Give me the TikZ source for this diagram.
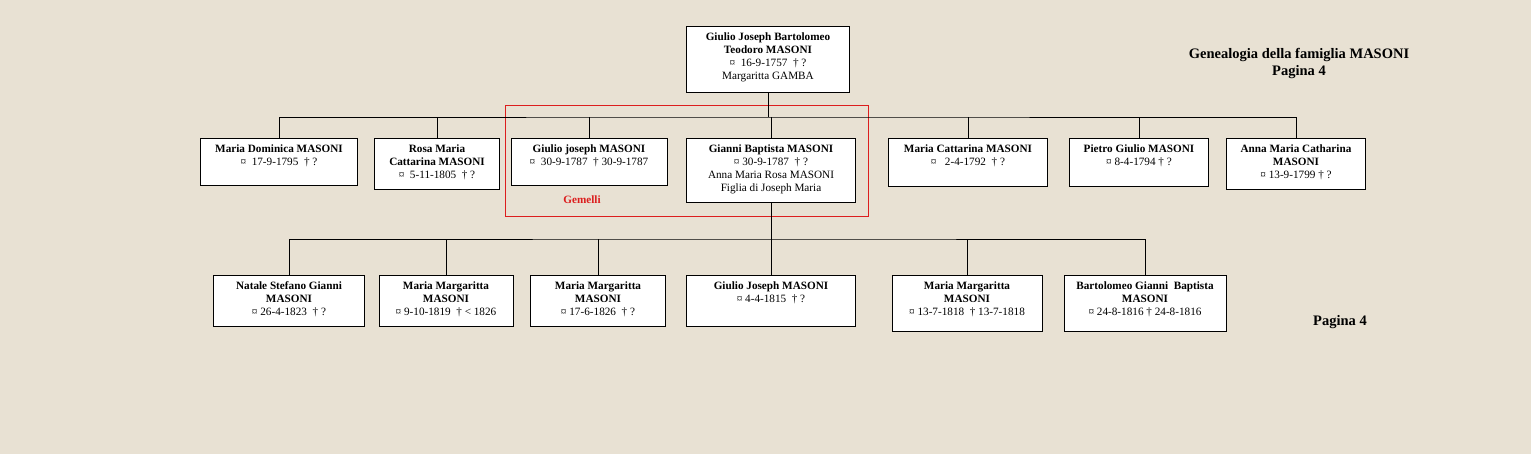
\documentclass[tikz,border=0pt]{standalone}
\usepackage{fontspec}
\setmainfont{Liberation Serif}
\definecolor{paper}{RGB}{232,225,211}
\definecolor{twinred}{RGB}{220,30,30}
% box with its text hanging from the top edge
\newcommand{\person}[6]{%
  \node[personbox,minimum width=#4,minimum height=#5] (#1) at (#2,#3) {};
  \node[persontext] (#1-t) at (#1.north) {#6};}

\begin{document}
\begin{tikzpicture}[x=1pt,y=-1pt,font=\fontsize{11.2}{13}\selectfont]
  \tikzstyle{personbox}=[draw=black,fill=white,anchor=north,inner sep=0pt,line width=0.7pt]
  \tikzstyle{persontext}=[anchor=north,align=center,inner sep=0pt,yshift=-6.5pt]
  \tikzstyle{link}=[draw=black,line width=0.7pt]
  \fill[paper] (0,0) rectangle (1531,454);
  \useasboundingbox (0,0) rectangle (1531,454);

  % Titles
  \node[font=\fontsize{14.5}{17}\selectfont\bfseries,align=center] (title) at (1299,63)
    {Genealogia della famiglia MASONI\\Pagina 4};
  \node[font=\fontsize{14.5}{17}\selectfont\bfseries] (page) at (1340,322) {Pagina 4};

  % Parents
  \person{P}{768}{26}{163}{66}
    {\textbf{Giulio Joseph Bartolomeo}\\\textbf{Teodoro MASONI}\\¤ \ 16-9-1757 \ † ?\\Margaritta GAMBA}

  % Children
  \person{C-1}{279}{138}{157}{47}
    {\textbf{Maria Dominica MASONI}\\¤ \ 17-9-1795 \ † ?}
  \person{C-2}{437}{138}{125}{51}
    {\textbf{Rosa Maria}\\\textbf{Cattarina MASONI}\\¤ \ 5-11-1805 \ † ?}
  \person{C-3}{589}{138}{156}{47}
    {\textbf{Giulio joseph MASONI}\\¤ \ 30-9-1787 \ † 30-9-1787}
  \person{C-4}{771}{138}{169}{64}
    {\textbf{Gianni Baptista MASONI}\\¤ 30-9-1787 \ † ?\\Anna Maria Rosa MASONI\\Figlia di Joseph Maria}
  \person{C-5}{968}{138}{159}{48}
    {\textbf{Maria Cattarina MASONI}\\¤ \ \ 2-4-1792 \ † ?}
  \person{C-6}{1139}{138}{139}{48}
    {\textbf{Pietro Giulio MASONI}\\¤ 8-4-1794 † ?}
  \person{C-7}{1296}{138}{139}{51}
    {\textbf{Anna Maria Catharina}\\\textbf{MASONI}\\¤ 13-9-1799 † ?}

  % Twins
  \draw[twinred,line width=0.7pt] (505,105) rectangle (868,216);
  \node[text=twinred,font=\fontsize{11.2}{13}\selectfont\bfseries] (gem) at (582,200) {Gemelli};

  % Grandchildren
  \person{G-1}{289}{275}{151}{51}
    {\textbf{Natale Stefano Gianni}\\\textbf{MASONI}\\¤ 26-4-1823 \ † ?}
  \person{G-2}{446}{275}{134}{51}
    {\textbf{Maria Margaritta}\\\textbf{MASONI}\\¤ 9-10-1819 \ † < 1826}
  \person{G-3}{598}{275}{135}{51}
    {\textbf{Maria Margaritta}\\\textbf{MASONI}\\¤ 17-6-1826 \ † ?}
  \person{G-4}{771}{275}{169}{51}
    {\textbf{Giulio Joseph MASONI}\\¤ 4-4-1815 \ † ?}
  \person{G-5}{967}{275}{150}{56}
    {\textbf{Maria Margaritta}\\\textbf{MASONI}\\¤ 13-7-1818 \ † 13-7-1818}
  \person{G-6}{1145}{275}{162}{56}
    {\textbf{Bartolomeo Gianni \ Baptista}\\\textbf{MASONI}\\¤ 24-8-1816 † 24-8-1816}

  % Connect nodes
  \coordinate (bar1) at (768,117);
  \draw[link] (P.south) -- (bar1);
  \draw[link] (C-1.north) |- (bar1) -| (C-7.north);
  \foreach \c in {2,...,6}
    \draw[link] (C-\c.north) -- (C-\c.north |- bar1);

  \coordinate (bar2) at (771,239);
  \draw[link] (C-4.south) -- (bar2);
  \draw[link] (G-1.north) |- (bar2) -| (G-6.north);
  \foreach \g in {2,...,5}
    \draw[link] (G-\g.north) -- (G-\g.north |- bar2);
\end{tikzpicture}
\end{document}
